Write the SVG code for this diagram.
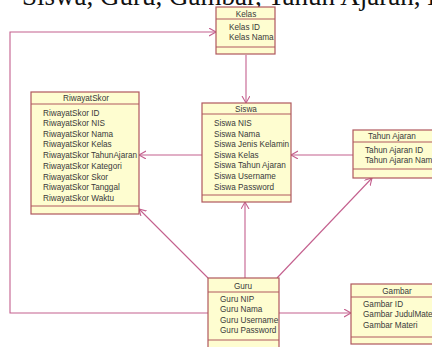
<svg xmlns="http://www.w3.org/2000/svg" width="432" height="347" viewBox="0 0 432 347">
<style>
.box{fill:#fefdd0;stroke:#b0585e;stroke-width:1.2}
.div{stroke:#b0585e;stroke-width:1}
.t{font-family:"Liberation Sans",Arial,sans-serif;font-size:8.2px;fill:#3a3a3a}
.h{text-anchor:middle}
.c{fill:none;stroke:#c4608e;stroke-width:1.1}
.top{font-family:"Liberation Serif","Times New Roman",serif;font-size:27px;fill:#111}
</style>
<defs>
<marker id="arr" markerUnits="userSpaceOnUse" markerWidth="10" markerHeight="10" refX="7" refY="4" orient="auto">
<path d="M0,0 L7,4 L0,8" fill="none" stroke="#c4608e" stroke-width="1.1"/>
</marker>
</defs>
<rect width="432" height="347" fill="#ffffff"/>
<text class="top" x="22" y="5">Siswa, Guru, Gambar, Tahun Ajaran, Kelas</text>
<g id="connectors">
<polyline class="c" points="208,313 10,313 10,32 216,32" marker-end="url(#arr)"/>
<line class="c" x1="246" y1="55" x2="246" y2="103" marker-end="url(#arr)"/>
<line class="c" x1="353" y1="155" x2="291" y2="155" marker-end="url(#arr)"/>
<line class="c" x1="202" y1="155" x2="139" y2="155" marker-end="url(#arr)"/>
<line class="c" x1="208" y1="278" x2="139" y2="209" marker-end="url(#arr)"/>
<line class="c" x1="245" y1="278" x2="245" y2="202" marker-end="url(#arr)"/>
<line class="c" x1="277" y1="278" x2="372" y2="178" marker-end="url(#arr)"/>
<line class="c" x1="279" y1="313" x2="351" y2="313" marker-end="url(#arr)"/>
</g>
<g id="kelas">
<rect class="box" x="216" y="7" width="59" height="47"/>
<line class="div" x1="216" y1="19" x2="275" y2="19"/>
<line class="div" x1="216" y1="47" x2="275" y2="47"/>
<text class="t h" x="246" y="17">Kelas</text>
<text class="t" x="229" y="30">Kelas ID</text>
<text class="t" x="229" y="40">Kelas Nama</text>
</g>
<g id="siswa">
<rect class="box" x="202" y="103" width="89" height="99"/>
<line class="div" x1="202" y1="114" x2="291" y2="114"/>
<line class="div" x1="202" y1="195" x2="291" y2="195"/>
<text class="t h" x="246" y="112">Siswa</text>
<text class="t" x="214" y="126">Siswa NIS</text>
<text class="t" x="214" y="136.5">Siswa Nama</text>
<text class="t" x="214" y="147">Siswa Jenis Kelamin</text>
<text class="t" x="214" y="157.5">Siswa Kelas</text>
<text class="t" x="214" y="168">Siswa Tahun Ajaran</text>
<text class="t" x="214" y="179">Siswa Username</text>
<text class="t" x="214" y="189.5">Siswa Password</text>
</g>
<g id="riwayatskor">
<rect class="box" x="31" y="92" width="108" height="122"/>
<line class="div" x1="31" y1="104" x2="139" y2="104"/>
<line class="div" x1="31" y1="206" x2="139" y2="206"/>
<text class="t h" x="86" y="101">RiwayatSkor</text>
<text class="t" x="43" y="116">RiwayatSkor ID</text>
<text class="t" x="43" y="126">RiwayatSkor NIS</text>
<text class="t" x="43" y="136.5">RiwayatSkor Nama</text>
<text class="t" x="43" y="147">RiwayatSkor Kelas</text>
<text class="t" x="43" y="158">RiwayatSkor TahunAjaran</text>
<text class="t" x="43" y="169">RiwayatSkor Kategori</text>
<text class="t" x="43" y="179.5">RiwayatSkor Skor</text>
<text class="t" x="43" y="190">RiwayatSkor Tanggal</text>
<text class="t" x="43" y="200.5">RiwayatSkor Waktu</text>
</g>
<g id="tahunajaran">
<rect class="box" x="353" y="130" width="90" height="48"/>
<line class="div" x1="353" y1="142" x2="443" y2="142"/>
<line class="div" x1="353" y1="169" x2="443" y2="169"/>
<text class="t h" x="392" y="139">Tahun Ajaran</text>
<text class="t" x="365" y="153">Tahun Ajaran ID</text>
<text class="t" x="365" y="163">Tahun Ajaran Nama</text>
</g>
<g id="guru">
<rect class="box" x="208" y="278" width="71" height="72"/>
<line class="div" x1="208" y1="292" x2="279" y2="292"/>
<line class="div" x1="208" y1="340" x2="279" y2="340"/>
<text class="t h" x="243" y="288.5">Guru</text>
<text class="t" x="220" y="301.5">Guru NIP</text>
<text class="t" x="220" y="312">Guru Nama</text>
<text class="t" x="220" y="322.5">Guru Username</text>
<text class="t" x="220" y="333">Guru Password</text>
</g>
<g id="gambar">
<rect class="box" x="351" y="284" width="92" height="60"/>
<line class="div" x1="351" y1="297" x2="443" y2="297"/>
<line class="div" x1="351" y1="337" x2="443" y2="337"/>
<text class="t h" x="397" y="294">Gambar</text>
<text class="t" x="363" y="307">Gambar ID</text>
<text class="t" x="363" y="317">Gambar JudulMateri</text>
<text class="t" x="363" y="327.5">Gambar Materi</text>
</g>
</svg>
